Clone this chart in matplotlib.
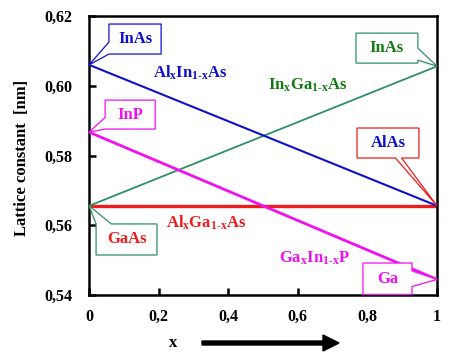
import matplotlib
matplotlib.use('Agg')
import matplotlib.pyplot as plt
from matplotlib.patches import Polygon, FancyArrow

plt.rcParams['font.family'] = 'Liberation Serif'
plt.rcParams['font.weight'] = 'bold'
plt.rcParams['axes.labelweight'] = 'bold'
plt.rcParams['mathtext.fontset'] = 'custom'
plt.rcParams['mathtext.rm'] = 'Liberation Serif:bold'
plt.rcParams['mathtext.it'] = 'Liberation Serif:bold'
plt.rcParams['mathtext.bf'] = 'Liberation Serif:bold'

# composition x and lattice constants [nm] at the two ends
x = [0, 1]
alinas = [0.6060, 0.5656]
ingaas = [0.5656, 0.6056]
algaas = [0.5656, 0.5656]
gainp = [0.5867, 0.5445]

xticks = [0, 0.2, 0.4, 0.6, 0.8, 1]
xtick_labels = ['0', '0,2', '0,4', '0,6', '0,8', '1']
yticks = [0.54, 0.56, 0.58, 0.60, 0.62]
ytick_labels = ['0,54', '0,56', '0,58', '0,60', '0,62']

BLUE = '#1010cc'
GREEN = '#2e9065'
DKGREEN = '#127a12'
RED = '#ee1c1c'
MAGENTA = '#f010f0'


def bubble(ax, text, box, tip, side, a, b, edge, tcolor):
    x0, y0, x1, y1 = box
    w = x1 - x0
    h = y1 - y0
    bl, br, tr, tl = (x0, y0), (x1, y0), (x1, y1), (x0, y1)
    if side == 'bottom':
        pts = [bl, (x0 + a * w, y0), tip, (x0 + b * w, y0), br, tr, tl]
    elif side == 'right':
        pts = [bl, br, (x1, y0 + a * h), tip, (x1, y0 + b * h), tr, tl]
    elif side == 'top':
        pts = [bl, br, tr, (x0 + b * w, y1), tip, (x0 + a * w, y1), tl]
    else:
        pts = [bl, br, tr, tl, (x0, y0 + b * h), tip, (x0, y0 + a * h)]
    ax.add_patch(Polygon(pts, closed=True, facecolor='white', edgecolor=edge,
                         linewidth=0.9, zorder=5, clip_on=False))
    ax.text((x0 + x1) / 2, (y0 + y1) / 2, text, color=tcolor, fontsize=12,
            ha='center', va='center', zorder=6)


fig = plt.figure(figsize=(4.74, 3.56), dpi=100)
ax = fig.add_axes([0.188, 0.171, 0.734, 0.784])

ax.plot(x, algaas, color=RED, linewidth=2.4, zorder=2)
ax.plot(x, ingaas, color=GREEN, linewidth=1.3, zorder=3)
ax.plot(x, alinas, color=BLUE, linewidth=1.5, zorder=3)
ax.plot(x, gainp, color=MAGENTA, linewidth=2.0, zorder=3)

ax.set_xlim(0, 1)
ax.set_ylim(0.54, 0.62)
ax.set_xticks(xticks)
ax.set_xticklabels(xtick_labels)
ax.set_yticks(yticks)
ax.set_yticklabels(ytick_labels)
ax.tick_params(direction='in', length=5, width=1.8, labelsize=11.5)
ax.tick_params(axis='y', pad=12)
ax.tick_params(axis='x', pad=10)
for sp in ax.spines.values():
    sp.set_linewidth(1.8)

ax.set_ylabel('Lattice constant  [nm]', fontsize=12)
ax.yaxis.set_label_coords(-0.17, 0.49)

# series labels
ax.text(0.29, 0.6037, r'Al$_x$In$_{1\text{-}x}$As', color=BLUE, fontsize=12,
        ha='center', va='center')
ax.text(0.627, 0.6002, r'In$_x$Ga$_{1\text{-}x}$As', color=DKGREEN, fontsize=12,
        ha='center', va='center')
ax.text(0.336, 0.5606, r'Al$_x$Ga$_{1\text{-}x}$As', color=RED, fontsize=12,
        ha='center', va='center')
ax.text(0.649, 0.5506, r'Ga$_x$In$_{1\text{-}x}$P', color=MAGENTA, fontsize=12,
        ha='center', va='center')

# callouts pointing at the binary end points
bubble(ax, 'InAs', (0.057, 0.6091, 0.207, 0.6177), (x[0], alinas[0]),
       'left', 0.0, 0.4, BLUE, BLUE)
bubble(ax, 'InP', (0.046, 0.5876, 0.190, 0.5959), (x[0], gainp[0]),
       'left', 0.0, 0.4, MAGENTA, MAGENTA)
bubble(ax, 'InAs', (0.767, 0.6065, 0.945, 0.6151), (x[1], ingaas[1]),
       'right', 0.1, 0.5, GREEN, DKGREEN)
bubble(ax, 'AlAs', (0.770, 0.5793, 0.948, 0.5879), (x[1], alinas[1]),
       'bottom', 0.62, 0.72, RED, BLUE)
bubble(ax, 'GaAs', (0.020, 0.5515, 0.195, 0.5604), (x[0], ingaas[0]),
       'top', 0.0, 0.25, GREEN, RED)
bubble(ax, 'Ga', (0.787, 0.5402, 0.928, 0.5492), (x[1], gainp[1]),
       'right', 0.25, 0.75, MAGENTA, MAGENTA)

# x label with arrow
fig.text(173 / 474, 1 - 343 / 356, 'x', fontsize=12, ha='center', va='center')
fig.patches.append(FancyArrow(
    202 / 474, 1 - 343 / 356, 137 / 474, 0, width=4 / 356,
    head_width=16 / 356, head_length=16 / 474, length_includes_head=True,
    color='black', transform=fig.transFigure, figure=fig))

fig.savefig('out.png', dpi=100)
